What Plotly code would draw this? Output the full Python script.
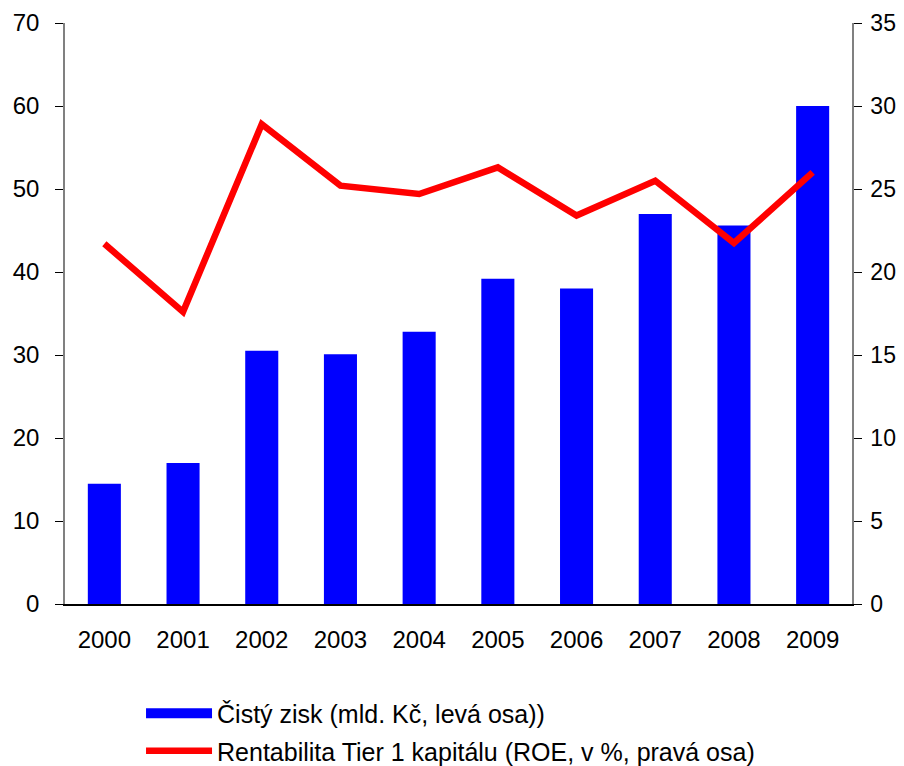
import plotly.graph_objects as go

years = ["2000", "2001", "2002", "2003", "2004", "2005", "2006", "2007", "2008", "2009"]
net_profit = [14.5, 17.0, 30.5, 30.1, 32.8, 39.2, 38.0, 47.0, 45.6, 60.0]
roe = [21.7, 17.6, 28.9, 25.2, 24.7, 26.3, 23.4, 25.5, 21.75, 26.0]

font = "Liberation Sans, Arial, sans-serif"
profit_name = "Čistý zisk (mld. Kč, levá osa))"
roe_name = "Rentabilita Tier 1 kapitálu (ROE, v %, pravá osa)"

fig = go.Figure()
fig.add_trace(
    go.Bar(
        x=years,
        y=net_profit,
        name=profit_name,
        marker=dict(color="#0000ff", line_width=0),
        showlegend=False,
        legendgroup="a",
    )
)
# legend entry drawn as a thick line so it looks like the wide blue swatch
fig.add_trace(
    go.Scatter(
        x=[None],
        y=[None],
        mode="lines",
        name=profit_name,
        line=dict(color="#0000ff", width=18),
        legendgroup="a",
    )
)
fig.add_trace(
    go.Scatter(
        x=years,
        y=roe,
        mode="lines",
        name=roe_name,
        line=dict(color="#ff0000", width=6.5),
        yaxis="y2",
        legendgroup="b",
    )
)

axis_common = dict(
    showline=True,
    linecolor="#808080",
    linewidth=1.5,
    ticks="outside",
    ticklen=8,
    tickcolor="black",
    showgrid=False,
    zeroline=False,
    automargin=False,
)

fig.update_layout(
    width=888,
    height=758,
    margin=dict(l=57, r=44, t=15, b=162),
    plot_bgcolor="white",
    paper_bgcolor="white",
    font=dict(family=font, size=24, color="black"),
    bargap=0.58,
    showlegend=True,
    legend=dict(
        orientation="v",
        x=0.0966,
        xanchor="left",
        y=0.0996,
        yanchor="top",
        yref="container",
        font=dict(size=25),
        itemwidth=66,
        tracegroupgap=2,
        bgcolor="rgba(0,0,0,0)",
    ),
    xaxis=dict(
        showline=True,
        linecolor="black",
        linewidth=1.5,
        ticks="",
        showgrid=False,
        ticklabelstandoff=13,
        automargin=False,
    ),
    yaxis=dict(range=[0, 70], dtick=10, ticklabelstandoff=11, **axis_common),
    yaxis2=dict(
        range=[0, 35],
        dtick=5,
        overlaying="y",
        side="right",
        ticklabelstandoff=4,
        tickfont=dict(size=23),
        **axis_common,
    ),
)

fig.write_html("out.html")
